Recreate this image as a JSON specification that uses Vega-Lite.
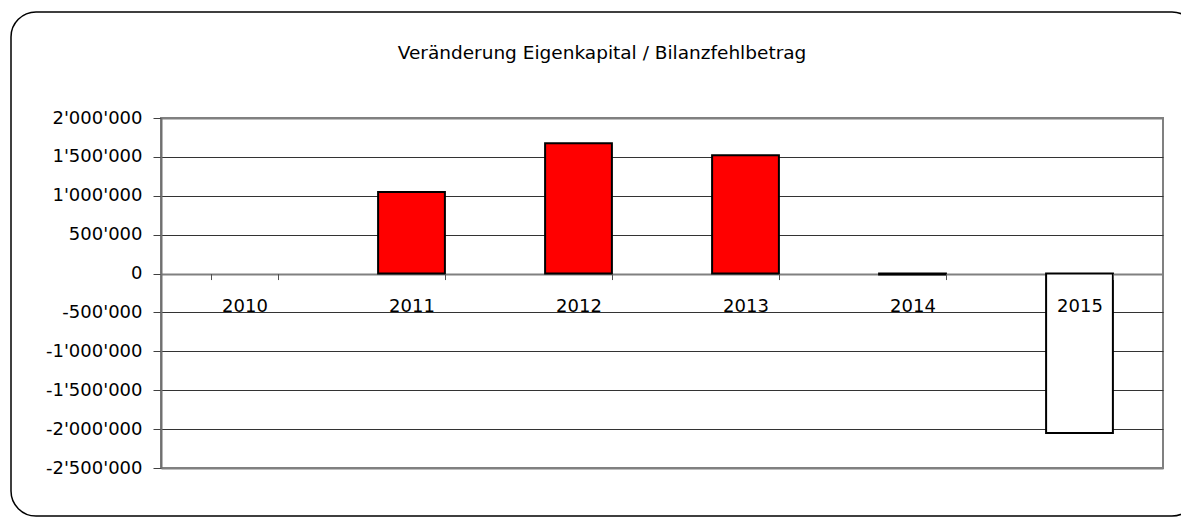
{
  "$schema": "https://vega.github.io/schema/vega-lite/v6.json",
  "width": 1002,
  "height": 350,
  "autosize": {"type": "none"},
  "padding": {"left": 161, "top": 118, "right": 18, "bottom": 49},
  "background": "#ffffff",
  "title": {
    "text": "Veränderung Eigenkapital / Bilanzfehlbetrag",
    "font": "DejaVu Sans",
    "fontSize": 18.5,
    "fontWeight": "normal",
    "color": "#000000",
    "anchor": "middle",
    "frame": "group",
    "dx": -60,
    "offset": -66,
    "baseline": "alphabetic"
  },
  "layer": [
    {
      "data": {"values": [{"rahmen": 1}]},
      "mark": {"type": "rect", "fill": null, "stroke": "#000000", "strokeWidth": 1.5, "cornerRadius": 25, "clip": false},
      "encoding": {
        "x": {"value": -150},
        "x2": {"value": 1036},
        "y": {"value": -106},
        "y2": {"value": 398}
      }
    },
    {
      "data": {
        "values": [
          {"jahr": "2010", "wert": null},
          {"jahr": "2011", "wert": 1050000},
          {"jahr": "2012", "wert": 1675000},
          {"jahr": "2013", "wert": 1522000},
          {"jahr": "2014", "wert": -12000},
          {"jahr": "2015", "wert": -2050000}
        ]
      },
      "mark": {"type": "bar", "stroke": "#000000", "strokeWidth": 2},
      "encoding": {
        "x": {
          "field": "jahr",
          "type": "nominal",
          "sort": null,
          "scale": {"domain": ["2010", "2011", "2012", "2013", "2014", "2015"], "paddingInner": 0.6, "paddingOuter": 0.3},
          "axis": {
            "title": null,
            "orient": "bottom",
            "offset": -194.44,
            "zindex": 1,
            "labelAngle": 0,
            "tickBand": "extent",
            "tickSize": 6,
            "tickColor": "#505050",
            "domain": false,
            "labelFont": "DejaVu Sans",
            "labelFontSize": 18,
            "labelColor": "#000000",
            "labelPadding": 18,
            "grid": false
          }
        },
        "y": {
          "field": "wert",
          "type": "quantitative",
          "scale": {"domain": [-2500000, 2000000], "nice": false, "zero": false},
          "axis": {
            "title": null,
            "values": [-2500000, -2000000, -1500000, -1000000, -500000, 0, 500000, 1000000, 1500000, 2000000],
            "grid": true,
            "gridColor": {"condition": {"test": "datum.value === 2000000 || datum.value === -2500000 || datum.value === 0", "value": "#808080"}, "value": "#333333"},
            "gridWidth": {"condition": {"test": "datum.value === 2000000 || datum.value === -2500000 || datum.value === 0", "value": 2}, "value": 1},
            "domainColor": "#707070",
            "domainWidth": 2,
            "tickColor": "#404040",
            "tickSize": 8,
            "labelPadding": 11,
            "labelFont": "DejaVu Sans",
            "labelFontSize": 18,
            "labelColor": "#000000",
            "labelExpr": "(datum.value < 0 ? '-' : '') + replace(format(abs(datum.value), ','), regexp(',', 'g'), \"'\")"
          }
        },
        "fill": {
          "condition": {"test": "datum.wert > 0", "value": "#ff0000"},
          "value": "#ffffff"
        }
      }
    }
  ],
  "config": {
    "font": "DejaVu Sans",
    "view": {"stroke": "#808080", "strokeWidth": 2}
  }
}
